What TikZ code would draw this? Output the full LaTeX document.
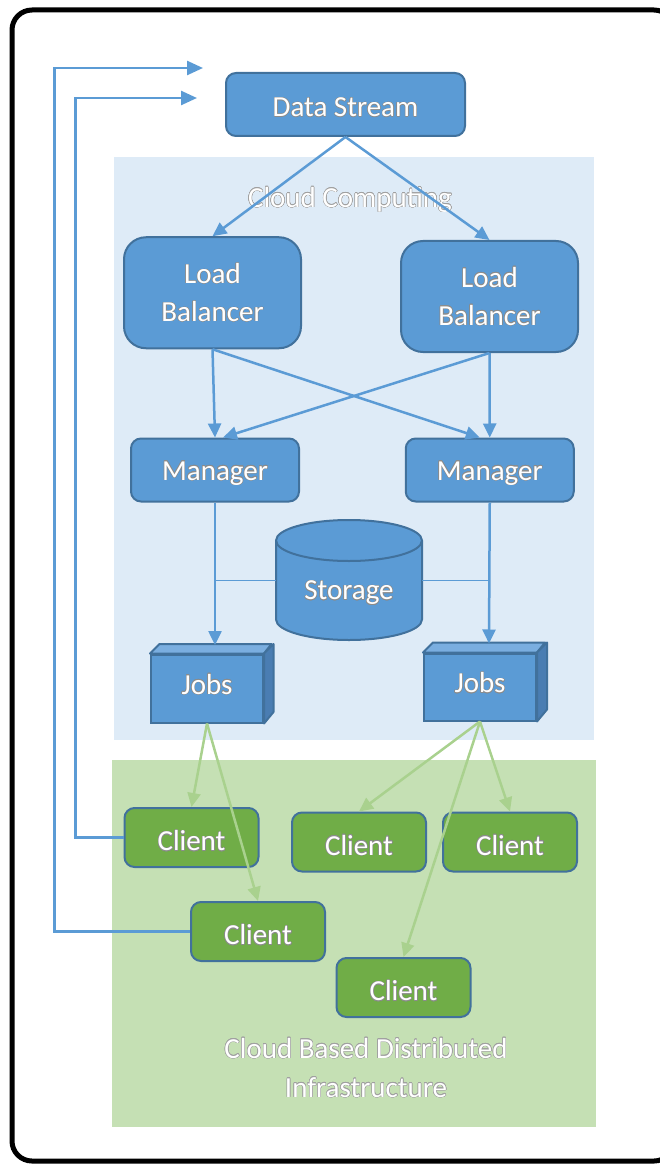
\documentclass[tikz,border=0pt]{standalone}
\usepackage{fontspec}
\setmainfont{Carlito}
\usepackage{contour}
\contourlength{0.45pt}
\usetikzlibrary{arrows.meta}
\definecolor{boxblue}{HTML}{5B9BD5}
\definecolor{bordblue}{HTML}{41719C}
\definecolor{topblue}{HTML}{7AAEE0}
\definecolor{sideblue}{HTML}{4A7DB2}
\definecolor{cloudbg}{HTML}{DEEBF7}
\definecolor{greenbg}{HTML}{C5E0B4}
\definecolor{clientgreen}{HTML}{70AD47}
\definecolor{arrowgreen}{HTML}{A9D18E}
\definecolor{outl}{HTML}{8C8C8C}
\definecolor{bgoutl}{HTML}{A0A0A0}
\newcommand\mylbl[2][-3.5pt]{\raisebox{#1}[\height][\depth]{\contour{outl}{#2}}}
\newcommand\mybglbl[2][-1pt]{\raisebox{#1}[\height][\depth]{\contour{bgoutl}{#2}}}
\begin{document}
\begin{tikzpicture}[x=1pt,y=-1pt,
  txt/.style={font=\fontsize{29}{38}\selectfont, text=white, inner sep=0pt, align=center},
  box/.style={txt, draw=bordblue, fill=boxblue, line width=2pt, rounded corners=10pt},
  lbbox/.style={box, rounded corners=22pt},
  client/.style={box, fill=clientgreen, minimum width=134pt, minimum height=59pt},
  bluearrow/.style={draw=boxblue, line width=2.5pt, -{Triangle[length=14pt,width=13pt]}},
  greenarrow/.style={draw=arrowgreen, line width=2.5pt, -{Triangle[length=14pt,width=13pt]}},
  bgtext/.style={txt}
]
\useasboundingbox (0,0) rectangle (660,1166);
% outer frame
\draw[line width=5pt, rounded corners=20pt] (12,10) rectangle (674,1161);
% backgrounds
\fill[cloudbg] (114,157) rectangle (594,740);
\fill[greenbg] (112,760) rectangle (596,1127);
\node[bgtext] (cc) at (350,196) {\mybglbl[-4pt]{Cloud Computing}};
\node[bgtext, font=\fontsize{29}{39}\selectfont] (cbdi) at (366,1067) {\mybglbl{Cloud Based Distributed}\\\mybglbl{Infrastructure}};

% nodes
\node[box, minimum width=239pt, minimum height=63pt] (ds) at (345.5,104.5) {\mylbl[-3pt]{Data Stream}};
\node[lbbox, minimum width=177pt, minimum height=111pt] (lbL) at (212.5,292.75) {\mylbl[0pt]{Load}\\\mylbl[0pt]{Balancer}};
\node[lbbox, minimum width=177pt, minimum height=111pt] (lbR) at (489.5,296.5) {\mylbl[0pt]{Load}\\\mylbl[0pt]{Balancer}};
\node[box, minimum width=168pt, minimum height=63pt] (mgL) at (215,470) {\mylbl{Manager}};
\node[box, minimum width=168pt, minimum height=63pt] (mgR) at (489.75,470) {\mylbl{Manager}};

% storage cylinder
\filldraw[fill=boxblue, draw=bordblue, line width=2pt]
  (276,540.5) -- (276,619.5) arc (180:360:73pt and 20.5pt) -- (422,540.5) arc (0:180:73pt and 20.5pt) -- cycle;
\draw[bordblue, line width=2pt] (276,540.5) arc (180:360:73pt and 20.5pt);
\node[txt] (storage) at (349,590) {\mylbl[-3pt]{Storage}};
\coordinate (stL) at (276,580.5);
\coordinate (stR) at (422,580.5);

% jobs boxes
\node[box, rounded corners=0pt, minimum width=112pt, minimum height=68pt] (jobsL) at (207,688.5) {\mylbl[4pt]{Jobs}};
\filldraw[fill=topblue, draw=bordblue, line width=2pt, line join=round]
  (jobsL.north west) -- ++(9.5,-9.5) -- ++(112,0) -- (jobsL.north east) -- cycle;
\filldraw[fill=sideblue, draw=bordblue, line width=2pt, line join=round]
  (jobsL.north east) -- ++(9.5,-9.5) -- ++(0,68) -- (jobsL.south east) -- cycle;
\node[box, rounded corners=0pt, minimum width=112pt, minimum height=67pt] (jobsR) at (480,687) {\mylbl[4pt]{Jobs}};
\filldraw[fill=topblue, draw=bordblue, line width=2pt, line join=round]
  (jobsR.north west) -- ++(10,-10) -- ++(112,0) -- (jobsR.north east) -- cycle;
\filldraw[fill=sideblue, draw=bordblue, line width=2pt, line join=round]
  (jobsR.north east) -- ++(10,-10) -- ++(0,67) -- (jobsR.south east) -- cycle;
\coordinate (jLt) at (215,645);
\coordinate (jRt) at (489,643.5);

% clients
\node[client] (c1) at (191.5,837.5) {\mylbl{Client}};
\node[client] (c2) at (359,842) {\mylbl{Client}};
\node[client] (c3) at (510,842) {\mylbl{Client}};
\node[client] (c4) at (258,931.5) {\mylbl{Client}};
\node[client] (c5) at (403.5,987.5) {\mylbl{Client}};

% feedback coordinates
\coordinate (fb1) at (203,68);
\coordinate (fb2) at (197,98);

% blue arrows
\draw[bluearrow] (ds.south) -- (lbL.north);
\draw[bluearrow] (ds.south) -- (lbR.north);
\draw[bluearrow] (lbL.south) -- (mgL.north);
\draw[bluearrow] (lbL.south) -- ([xshift=-10pt]mgR.north);
\draw[bluearrow] (lbR.south) -- (mgR.north);
\draw[bluearrow] (lbR.south) -- ([xshift=8pt]mgL.north);
\draw[bluearrow] (mgL.south) -- (jLt);
\draw[bluearrow] (mgR.south) -- (jRt);
\draw[boxblue, line width=1.5pt] (stL) -- (mgL.south |- stL);
\draw[boxblue, line width=1.5pt] (stR) -- (mgR.south |- stR);

% green arrows
\draw[greenarrow] (jobsL.south) -- (c1.north);
\draw[greenarrow] (jobsL.south) -- (c4.north);
\draw[greenarrow] (jobsR.south) -- (c2.north);
\draw[greenarrow] (jobsR.south) -- (c3.north);
\draw[greenarrow] (jobsR.south) -- (c5.north);

% feedback arrows
\draw[draw=boxblue, line width=2.5pt, -{Triangle[length=16pt,width=14pt]}] (c4.west) -- ++(-135.5,0) |- (fb1);
\draw[draw=boxblue, line width=2.5pt, -{Triangle[length=16pt,width=14pt]}] (c1.west) -- ++(-48,0) |- (fb2);
\end{tikzpicture}
\end{document}
